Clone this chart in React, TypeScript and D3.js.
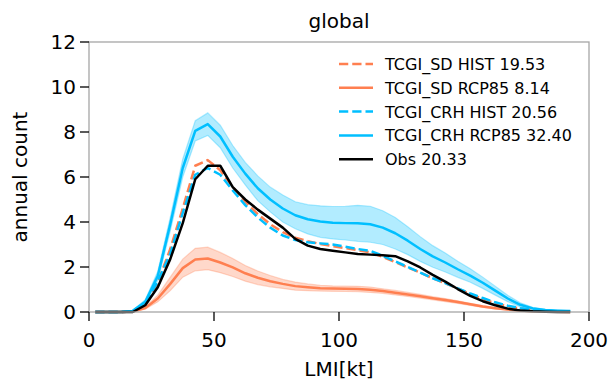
import * as d3 from "d3";

// LMI bin centres (kt)
const lmi = [2.5, 7.5, 12.5, 17.5, 22.5, 27.5, 32.5, 37.5, 42.5, 47.5, 52.5, 57.5, 62.5, 67.5, 72.5, 77.5, 82.5, 87.5, 92.5, 97.5, 102.5, 107.5, 112.5, 117.5, 122.5, 127.5, 132.5, 137.5, 142.5, 147.5, 152.5, 157.5, 162.5, 167.5, 172.5, 177.5, 182.5, 187.5, 192.5];

const sdHist = [0, 0, 0, 0.02, 0.35, 1.3, 2.8, 4.6, 6.5, 6.75, 6.3, 5.55, 4.9, 4.35, 3.9, 3.55, 3.3, 3.15, 3.02, 2.93, 2.84, 2.75, 2.65, 2.45, 2.22, 1.98, 1.75, 1.5, 1.27, 1.05, 0.8, 0.58, 0.39, 0.25, 0.15, 0.08, 0.04, 0.02, 0.01];
const sdRcp = [0, 0, 0, 0.02, 0.18, 0.6, 1.25, 1.95, 2.33, 2.38, 2.2, 1.98, 1.72, 1.52, 1.37, 1.25, 1.15, 1.1, 1.06, 1.04, 1.03, 1.02, 0.99, 0.93, 0.86, 0.78, 0.7, 0.61, 0.53, 0.44, 0.34, 0.24, 0.17, 0.11, 0.06, 0.03, 0.02, 0.01, 0.005];
const sdSpread = [0, 0, 0, 0.01, 0.05, 0.15, 0.3, 0.4, 0.5, 0.5, 0.45, 0.4, 0.35, 0.3, 0.25, 0.2, 0.18, 0.15, 0.13, 0.12, 0.12, 0.12, 0.12, 0.1, 0.1, 0.09, 0.08, 0.07, 0.07, 0.06, 0.05, 0.04, 0.03, 0.02, 0.02, 0.01, 0.01, 0.01, 0];
const crhHist = [0, 0, 0, 0.03, 0.4, 1.35, 2.6, 4.4, 6.1, 6.4, 6.1, 5.4, 4.75, 4.2, 3.75, 3.4, 3.2, 3.1, 3.05, 3.0, 2.9, 2.8, 2.72, 2.5, 2.25, 2.0, 1.75, 1.5, 1.28, 1.05, 0.82, 0.62, 0.43, 0.28, 0.17, 0.1, 0.06, 0.03, 0.02];
const crhRcp = [0, 0, 0, 0.05, 0.45, 1.6, 3.9, 6.4, 8.05, 8.35, 7.8, 6.9, 6.15, 5.5, 5.0, 4.6, 4.3, 4.12, 4.02, 3.97, 3.95, 3.94, 3.9, 3.75, 3.5, 3.17, 2.8, 2.47, 2.2, 1.9, 1.62, 1.3, 0.95, 0.6, 0.32, 0.16, 0.09, 0.06, 0.04];
const crhSpread = [0, 0, 0, 0.02, 0.1, 0.2, 0.3, 0.4, 0.45, 0.5, 0.5, 0.5, 0.5, 0.55, 0.55, 0.6, 0.6, 0.65, 0.7, 0.72, 0.75, 0.8, 0.8, 0.75, 0.7, 0.62, 0.55, 0.48, 0.42, 0.36, 0.3, 0.25, 0.2, 0.14, 0.09, 0.05, 0.03, 0.02, 0.01];
const obs = [0, 0, 0, 0, 0.3, 1.1, 2.35, 3.95, 5.9, 6.5, 6.5, 5.55, 5.0, 4.55, 4.15, 3.75, 3.25, 2.95, 2.8, 2.72, 2.65, 2.58, 2.55, 2.52, 2.48, 2.25, 1.98, 1.65, 1.35, 1.02, 0.72, 0.48, 0.3, 0.15, 0.07, 0.03, 0.01, 0, 0];

const xTicks = [0, 50, 100, 150, 200];
const yTicks = [0, 2, 4, 6, 8, 10, 12];

const ORANGE = "#ff7f50";
const BLUE = "#00bfff";

const series = [
  { label: "TCGI_SD HIST 19.53", values: sdHist, color: ORANGE, dashed: true, spread: null },
  { label: "TCGI_SD RCP85 8.14", values: sdRcp, color: ORANGE, dashed: false, spread: sdSpread },
  { label: "TCGI_CRH HIST 20.56", values: crhHist, color: BLUE, dashed: true, spread: null },
  { label: "TCGI_CRH RCP85 32.40", values: crhRcp, color: BLUE, dashed: false, spread: crhSpread },
  { label: "Obs 20.33", values: obs, color: "#000", dashed: false, spread: null },
];

const W = 609, H = 387;
const m = { left: 89, right: 20, top: 42, bottom: 75 };
const FONT = "DejaVu Sans, sans-serif";

export default function App() {
  const x = d3.scaleLinear().domain([0, 200]).range([m.left, W - m.right]);
  const y = d3.scaleLinear().domain([0, 12]).range([H - m.bottom, m.top]);

  const line = d3.line<number>().x((_, i) => x(lmi[i])).y(d => y(d));
  const band = (vals: number[], sp: number[]) =>
    d3.area<number>()
      .x((_, i) => x(lmi[i]))
      .y0((d, i) => y(Math.max(0, d - sp[i])))
      .y1((d, i) => y(d + sp[i]))(vals) || "";

  const x0 = m.left, x1 = W - m.right, y0 = H - m.bottom, y1 = m.top;
  const spine = "#a6a6a6";

  return (
    <svg width={W} height={H} style={{ position: "absolute", left: 0, top: 0, background: "#fff" }} fontFamily={FONT}>
      {/* bands and lines */}
      {series.map(s => (
        <g key={s.label}>
          {s.spread && (
            <path d={band(s.values, s.spread)} fill={s.color} fillOpacity={0.3}
              stroke={s.color} strokeOpacity={0.3} strokeWidth={1.2} />
          )}
          <path d={line(s.values) || ""} fill="none" stroke={s.color} strokeWidth={2.5}
            strokeDasharray={s.dashed ? "9.25 4" : undefined} strokeLinejoin="round" />
        </g>
      ))}

      {/* spines */}
      <rect x={x0} y={y1} width={x1 - x0} height={y0 - y1} fill="none" stroke={spine} strokeWidth={1.3} />

      {/* x axis */}
      {xTicks.map(t => (
        <g key={"x" + t}>
          <line x1={x(t)} x2={x(t)} y1={y0} y2={y0 + 9} stroke="#000" strokeWidth={1.3} />
          <text x={x(t)} y={y0 + 35} textAnchor="middle" fontSize={20}>{t}</text>
        </g>
      ))}
      {/* y axis */}
      {yTicks.map(t => (
        <g key={"y" + t}>
          <line x1={x0 - 9} x2={x0} y1={y(t)} y2={y(t)} stroke="#000" strokeWidth={1.3} />
          <text x={x0 - 13} y={y(t) + 7} textAnchor="end" fontSize={20}>{t}</text>
        </g>
      ))}

      <text x={(x0 + x1) / 2} y={376} textAnchor="middle" fontSize={20}>LMI[kt]</text>
      <text transform={`translate(27,${(y0 + y1) / 2}) rotate(-90)`} textAnchor="middle" fontSize={20}>annual count</text>
      <text x={(x0 + x1) / 2} y={28} textAnchor="middle" fontSize={20}>global</text>

      {/* legend */}
      {series.map((s, i) => {
        const ly = 64 + i * 23.8;
        return (
          <g key={"lg" + i}>
            <line x1={339} x2={373} y1={ly} y2={ly} stroke={s.color} strokeWidth={2.5}
              strokeDasharray={s.dashed ? "9.25 4" : undefined} />
            <text x={385} y={ly + 6} fontSize={16}>{s.label}</text>
          </g>
        );
      })}
    </svg>
  );
}
